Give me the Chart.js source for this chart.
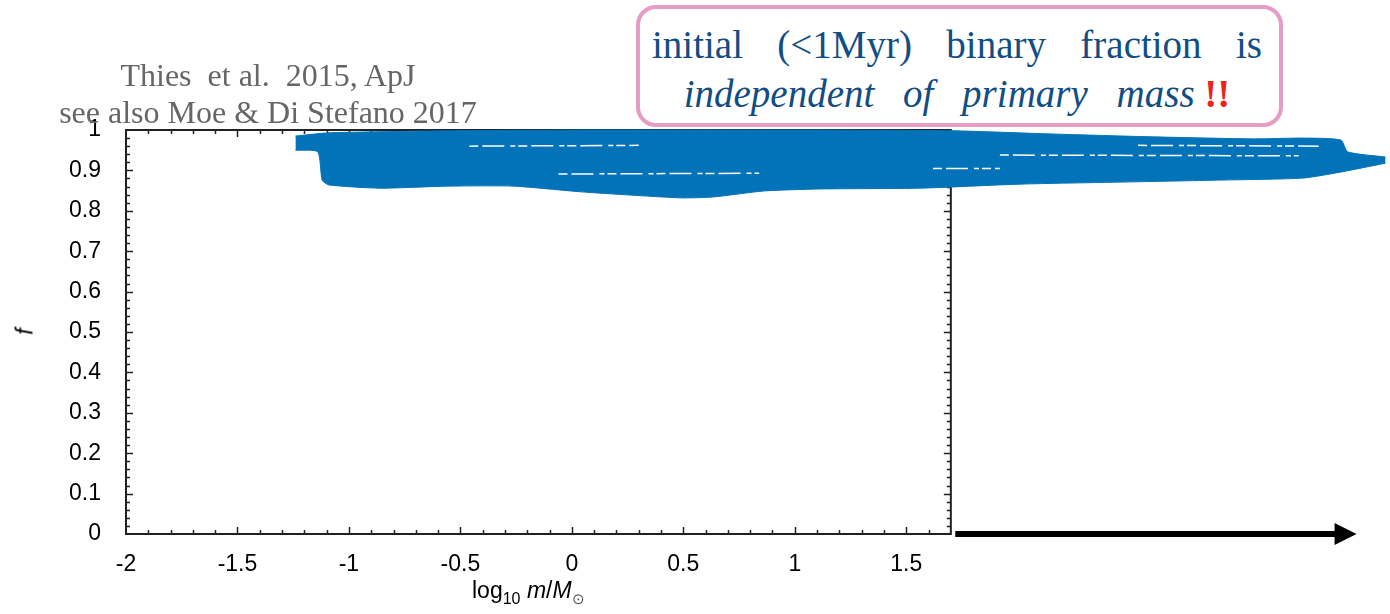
<!DOCTYPE html>
<html>
<head>
<meta charset="utf-8">
<script src="https://cdn.jsdelivr.net/npm/chart.js@4.4.1/dist/chart.umd.min.js"></script>
<style>
  body { margin: 0; background: #fff; width: 1390px; height: 614px; overflow: hidden; position: relative; }
  #chart { position: absolute; left: 0; top: 0; }
  .cite {
    position: absolute; left: 18px; top: 57px; width: 500px;
    text-align: center; white-space: pre;
    font-family: "Liberation Serif", "Times New Roman", serif;
    font-size: 32px; line-height: 37px; color: #666;
  }
  .box {
    position: absolute; left: 636px; top: 5px; width: 639px; height: 114px;
    border: 4px solid #e69cc3; border-radius: 20px; background: #fff;
  }
  .msg {
    position: absolute; left: 652px; width: 610px;
    font-family: "Liberation Serif", "Times New Roman", serif;
    font-size: 39px; line-height: 49px; color: #124d84; white-space: nowrap;
  }
  .l1 { top: 20px; text-align: justify; text-align-last: justify; }
  .l2 { top: 69px; text-align: center; font-style: italic; }
  .l2 span { word-spacing: 19px; }
  .l2 b { color: #e8261c; font-style: normal; }
  .ytitle {
    position: absolute; left: 15px; top: 318px; width: 20px; text-align: center;
    font-family: "Liberation Sans", Arial, sans-serif; font-style: italic; font-size: 23px;
    transform: rotate(-90deg);
  }
  .xtitle {
    position: absolute; left: 472px; top: 577px;
    font-family: "Liberation Sans", Arial, sans-serif; font-size: 23px; color: #000; white-space: nowrap;
  }
  .xtitle sub { font-size: 16px; }
  .xtitle .sun { font-size: 15px; color: #555; }
</style>
</head>
<body>
<canvas id="chart" width="1390" height="614"></canvas>
<div class="cite">Thies  et al.  2015, ApJ
see also Moe &amp; Di Stefano 2017</div>
<div class="box"></div>
<div class="msg l1">initial (&lt;1Myr) binary fraction is</div>
<div class="msg l2"><span>independent of primary mass</span> <b>!!</b></div>
<div class="ytitle">f</div>
<div class="xtitle">log<sub>10</sub> <i>m</i>/<i>M</i><sub class="sun">&#x2299;</sub></div>

<script>
// axis ticks
const xTicks = [-2, -1.5, -1, -0.5, 0, 0.5, 1, 1.5];
const yTicks = [0, 0.1, 0.2, 0.3, 0.4, 0.5, 0.6, 0.7, 0.8, 0.9, 1];
const yTickLabels = ['0', '0.1', '0.2', '0.3', '0.4', '0.5', '0.6', '0.7', '0.8', '0.9', '1'];

// plotted frame ends at log10 m = 1.7, the page keeps going to the right edge
const frameMaxX = 1.7;
const viewMaxX = 3.67;

// painted band: upper and lower edge (log10 m, f)
const bandTopX = [-1.24, -1.09, -0.55, 0.13, 1.02, 1.71, 2.16, 2.61, 3.06, 3.28, 3.45, 3.48, 3.65];
const bandTopF = [0.985, 0.993, 0.998, 1.0, 1.0, 0.998, 0.990, 0.983, 0.978, 0.980, 0.975, 0.946, 0.933];
const bandBottomX = [-1.24, -1.14, -1.12, -1.09, -0.86, -0.56, -0.26, 0.04, 0.26, 0.49, 0.63, 0.86, 1.11, 1.56, 2.01, 2.46, 2.91, 3.28, 3.45, 3.65];
const bandBottomF = [0.950, 0.946, 0.876, 0.864, 0.856, 0.861, 0.861, 0.847, 0.839, 0.832, 0.834, 0.849, 0.854, 0.856, 0.866, 0.871, 0.876, 0.881, 0.896, 0.918];

// white gaps in the brush stroke
const streak1X = [-0.46, 0.30];  const streak1F = [0.960, 0.962];
const streak2X = [-0.06, 0.84];  const streak2F = [0.891, 0.893];
const streak3X = [1.92, 3.26];   const streak3F = [0.938, 0.936];
const streak4X = [2.54, 3.35];   const streak4F = [0.962, 0.960];
const streak5X = [1.62, 1.92];   const streak5F = [0.905, 0.905];

// arrow along f = 0
const arrowX = [1.72, 3.52];
const arrowF = [0, 0];

const blue = '#0373b9';
const pts = (xs, ys) => xs.map((x, i) => ({ x: x, y: ys[i] }));

function streak(xs, ys) {
    return {
        data: pts(xs, ys), borderColor: '#fff', borderWidth: 1.5, borderDash: [9, 4, 22, 6, 5, 3],
        pointRadius: 0, fill: false, order: 0
    };
}

// frame with inward major/minor ticks on all four sides, plus the arrow
const framePlugin = {
    id: 'frame',
    beforeDatasetsDraw(chart) {
        const { ctx, chartArea: a, scales: { x, y } } = chart;
        const right = x.getPixelForValue(frameMaxX);
        ctx.save();
        ctx.strokeStyle = '#222';
        ctx.lineWidth = 1.5;
        ctx.beginPath();
        for (let i = -19; i <= 16; i++) {
            const px = Math.round(x.getPixelForValue(i / 10)) + 0.5;
            const len = i % 5 === 0 ? 7 : 4;
            ctx.moveTo(px, a.bottom); ctx.lineTo(px, a.bottom - len);
            ctx.moveTo(px, a.top); ctx.lineTo(px, a.top + len);
        }
        for (let j = 1; j < 50; j++) {
            const py = Math.round(y.getPixelForValue(j / 50)) + 0.5;
            const len = j % 5 === 0 ? 7 : 4;
            ctx.moveTo(a.left, py); ctx.lineTo(a.left + len, py);
            ctx.moveTo(right, py); ctx.lineTo(right - len, py);
        }
        ctx.stroke();
        ctx.lineWidth = 2;
        ctx.strokeRect(a.left, a.top, right - a.left, a.bottom - a.top);
        ctx.restore();
    },
    afterDraw(chart) {
        const { ctx, scales: { x, y } } = chart;
        const x0 = x.getPixelForValue(arrowX[0]);
        const x1 = x.getPixelForValue(arrowX[1]);
        const py = y.getPixelForValue(arrowF[0]);
        ctx.save();
        ctx.fillStyle = '#000';
        ctx.fillRect(x0, py - 3, x1 - x0 - 20, 6);
        ctx.beginPath();
        ctx.moveTo(x1 - 22, py - 11);
        ctx.lineTo(x1, py);
        ctx.lineTo(x1 - 22, py + 11);
        ctx.closePath();
        ctx.fill();
        ctx.restore();
    }
};

new Chart(document.getElementById('chart'), {
    type: 'line',
    data: {
        datasets: [
            {
                data: pts(bandBottomX, bandBottomF), borderColor: blue, borderWidth: 1,
                pointRadius: 0, fill: false, tension: 0.2, clip: false, order: 1
            },
            {
                data: pts(bandTopX, bandTopF), borderColor: blue, borderWidth: 1, backgroundColor: blue,
                pointRadius: 0, fill: '-1', tension: 0.2, clip: false, order: 1
            },
            streak(streak1X, streak1F),
            streak(streak2X, streak2F),
            streak(streak3X, streak3F),
            streak(streak4X, streak4F),
            streak(streak5X, streak5F)
        ]
    },
    options: {
        responsive: false,
        animation: false,
        layout: { padding: { left: 0, top: 130, right: 0, bottom: 0 } },
        plugins: { legend: { display: false }, tooltip: { enabled: false } },
        scales: {
            x: {
                type: 'linear', min: -2, max: viewMaxX,
                afterBuildTicks: s => { s.ticks = xTicks.map(v => ({ value: v })); },
                afterFit: s => { s.height = 80; },
                grid: { display: false },
                border: { display: false },
                ticks: {
                    autoSkip: false, maxRotation: 0, padding: 9, color: '#000',
                    font: { family: 'Liberation Sans', size: 23 },
                    callback: v => String(v)
                }
            },
            y: {
                type: 'linear', min: 0, max: 1,
                afterBuildTicks: s => { s.ticks = yTicks.map(v => ({ value: v })); },
                afterFit: s => { s.width = 126; },
                grid: { display: false },
                border: { display: false },
                ticks: {
                    padding: 17, color: '#000',
                    font: { family: 'Liberation Sans', size: 23 },
                    callback: (v, i) => yTickLabels[i]
                }
            }
        }
    },
    plugins: [framePlugin]
});
</script>
</body>
</html>
